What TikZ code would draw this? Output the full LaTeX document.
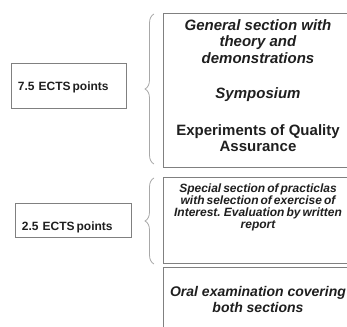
\documentclass[tikz,border=0pt]{standalone}
\usepackage{fontspec}
\setmainfont{Liberation Sans}
\newfontfamily\tightsans[WordSpace=0.6]{Liberation Sans}
\usetikzlibrary{positioning,decorations.pathreplacing}

\definecolor{framegray}{gray}{0.5}
\definecolor{bracegray}{gray}{0.66}
\definecolor{inkgray}{gray}{0.12}

\tikzset{
  pointbox/.style={draw=framegray, line width=0.9bp, text=inkgray, align=left,
    font=\bfseries\fontsize{12bp}{14bp}\selectfont,
    inner xsep=6.5bp, inner ysep=0pt, anchor=north west},
  partbox/.style={draw=framegray, line width=1bp, minimum width=189bp,
    inner sep=0pt, anchor=north west},
  parttext/.style={text=inkgray, align=center, inner sep=0pt},
  curly/.style={draw=bracegray, line width=0.8bp, decorate,
    decoration={brace, amplitude=9bp}},
}

\begin{document}
\begin{tikzpicture}[x=1bp, y=1bp]
    \useasboundingbox (0,0) rectangle (347,327);
    \clip (0,0) rectangle (347,327);

    % ECTS boxes on the left
    \node[pointbox, text width=102bp, text height=27.3bp, text depth=17.7bp]
        (ectsA) at (11,264) {7.5 ECTS\,points};
    \node[pointbox, text width=103bp, text height=27.3bp, text depth=6.7bp]
        (ectsB) at (15,124) {2.5 ECTS\,points};

    % course parts on the right
    \node[partbox, minimum height=154bp] (general) at (163,314) {};
    \node[partbox, minimum height=86bp] (special) at (163,150) {};
    \node[partbox, minimum height=80bp] (oral) at (163,60) {};

    \node[parttext, font=\bfseries\fontsize{15bp}{16.5bp}\selectfont,
          below=6.4bp of general.north] (generaltext)
        {\textit{General section with}\\ \textit{theory and}\\
         \textit{demonstrations}\\[19bp] \textit{Symposium}\\[20bp]
         Experiments of Quality\\ Assurance};
    \node[parttext, font=\tightsans\bfseries\itshape\fontsize{12bp}{12bp}\selectfont,
          below=6.5bp of special.north] (specialtext)
        {Special section of practiclas\\ with selection of exercise of\\
         Interest. Evaluation by written\\ report};
    \node[parttext, font=\bfseries\itshape\fontsize{14bp}{16bp}\selectfont,
          below=19bp of oral.north] (oraltext)
        {Oral examination covering\\ both sections};

    % braces
    \draw[curly] ([xshift=-9bp, yshift=4bp]general.south west)
        -- ([xshift=-9bp, yshift=-1bp]general.north west);
    \draw[curly] ([xshift=-9bp]special.south west)
        -- ([xshift=-9bp, yshift=-1bp]special.north west);
\end{tikzpicture}
\end{document}
